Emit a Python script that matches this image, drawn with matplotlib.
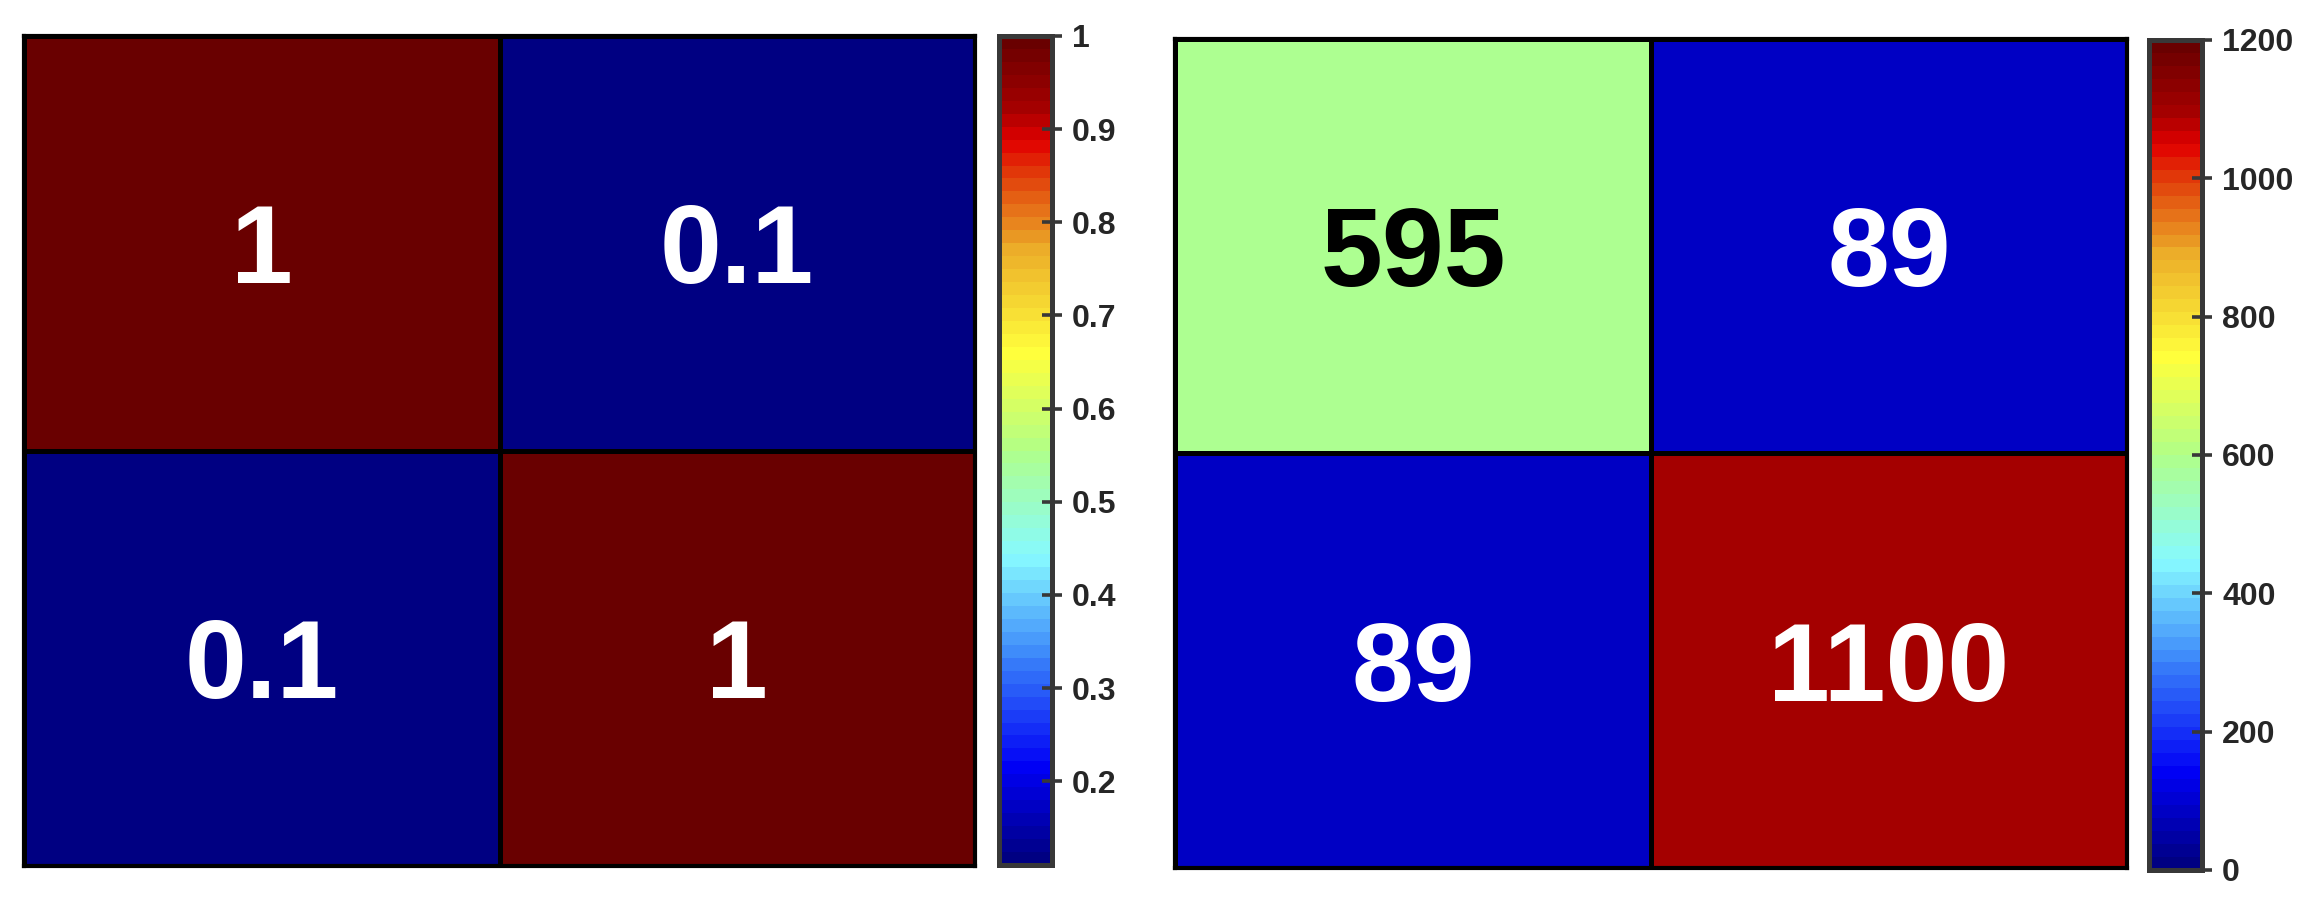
import matplotlib
matplotlib.use("Agg")
import matplotlib.pyplot as plt
import numpy as np
from matplotlib.colors import ListedColormap, LinearSegmentedColormap
import matplotlib.transforms as mtransforms

# data
left_values = [[1.0, 0.11],
               [0.11, 1.0]]
left_labels = [["1", "0.1"],
               ["0.1", "1"]]
left_ticks = [0.2, 0.3, 0.4, 0.5, 0.6, 0.7, 0.8, 0.9, 1.0]
left_ticklabels = ["0.2", "0.3", "0.4", "0.5", "0.6", "0.7", "0.8", "0.9", "1"]

right_values = [[595, 89],
                [89, 1100]]
right_ticks = [0, 200, 400, 600, 800, 1000, 1200]
right_clim = (0, 1200)

# jet-like map as it appears in the picture (a bit lighter in the middle)
jet_stops = [(0.00, (0, 0, 130)),
             (0.11, (0, 0, 245)),
             (0.25, (60, 135, 250)),
             (0.37, (135, 250, 255)),
             (0.50, (176, 255, 136)),
             (0.62, (255, 255, 60)),
             (0.75, (235, 170, 40)),
             (0.84, (225, 60, 10)),
             (0.88, (225, 0, 0)),
             (0.92, (165, 0, 0)),
             (1.00, (105, 0, 0))]
smooth = LinearSegmentedColormap.from_list(
    'jetpic', [(p, tuple(c / 255 for c in rgb)) for p, rgb in jet_stops])
cmap = ListedColormap(smooth(np.linspace(0, 1, 64)))

plt.rcParams['font.family'] = ['Liberation Sans', 'DejaVu Sans']

DPI = 100
fig = plt.figure(figsize=(23.01, 9.13), dpi=DPI)
ax1 = fig.add_axes([0.01043, 0.05148, 0.4133, 0.9091])
cax1 = fig.add_axes([0.4342, 0.05257, 0.02303, 0.9080])
ax2 = fig.add_axes([0.5106, 0.04929, 0.4137, 0.9080])
cax2 = fig.add_axes([0.9339, 0.04710, 0.02303, 0.9091])

CELL_FS = 80


def draw_heat(ax, cax, vals, labels, vmin, vmax, ticks, ticklabels, text_colors):
    vals = np.array(vals, dtype=float)
    im = ax.pcolormesh(vals, cmap=cmap, vmin=vmin, vmax=vmax,
                       edgecolors='black', linewidth=3.5)
    ax.set_xlim(0, vals.shape[1])
    ax.set_ylim(vals.shape[0], 0)
    ax.set_xticks([])
    ax.set_yticks([])
    for s in ax.spines.values():
        s.set_linewidth(3.0)
        s.set_color('black')
    # shift baseline down by half the digit height so the ink is centred
    half_cap = 0.5 * 0.716 * CELL_FS / 72.0
    trans = mtransforms.offset_copy(ax.transData, fig=fig, x=0, y=-half_cap, units='inches')
    for i in range(vals.shape[0]):
        for j in range(vals.shape[1]):
            ax.text(j + 0.5, i + 0.5, labels[i][j], ha='center', va='baseline',
                    fontsize=CELL_FS, fontweight='bold', color=text_colors[i][j],
                    transform=trans)
    cb = fig.colorbar(im, cax=cax, ticks=ticks)
    cb.ax.set_yticklabels(ticklabels)
    cb.outline.set_linewidth(3.6)
    cb.outline.set_edgecolor('#383838')
    cax.tick_params(axis='y', direction='inout', length=15, width=2.6,
                    color='#383838', labelsize=23, labelcolor='#262626', pad=7)
    for t in cax.get_yticklabels():
        t.set_fontweight('bold')
    return im


draw_heat(ax1, cax1, left_values, left_labels, min(map(min, left_values)),
          max(map(max, left_values)), left_ticks, left_ticklabels,
          [['white', 'white'], ['white', 'white']])

right_labels = [[str(v) for v in row] for row in right_values]
draw_heat(ax2, cax2, right_values, right_labels, right_clim[0], right_clim[1],
          right_ticks, [str(t) for t in right_ticks],
          [['black', 'white'], ['white', 'white']])

fig.savefig('out.png', dpi=DPI)
